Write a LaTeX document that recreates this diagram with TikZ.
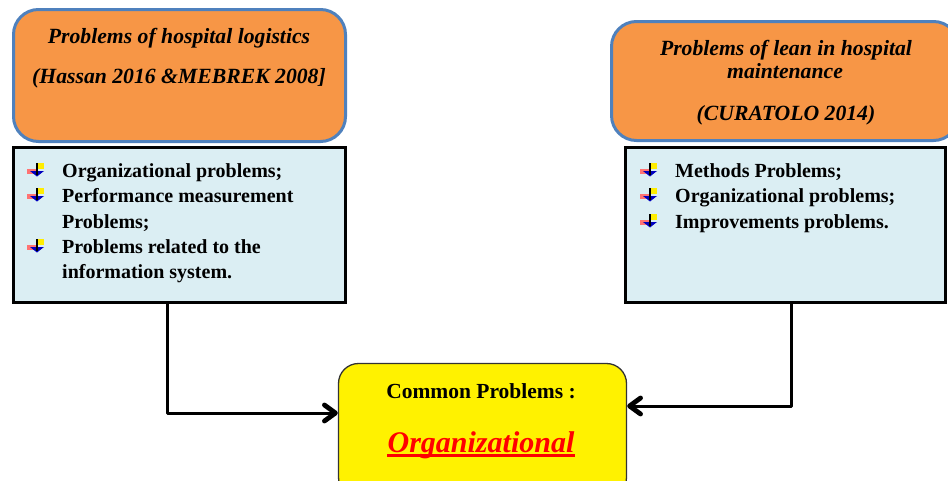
\documentclass[tikz,border=0pt]{standalone}
\usepackage{fontspec}
\setmainfont{Liberation Serif}
\usetikzlibrary{arrows.meta}
\definecolor{orng}{HTML}{F79646}
\definecolor{bord}{HTML}{4F81BD}
\definecolor{lblue}{HTML}{DBEEF3}
\begin{document}
\begin{tikzpicture}[x=1pt,y=-1pt,
  headbox/.style={rectangle, rounded corners=25pt, fill=orng, draw=bord, line width=3pt, inner sep=0pt},
  listbox/.style={rectangle, fill=lblue, draw=black, line width=3pt, inner sep=0pt},
  commonbox/.style={rectangle, rounded corners=20pt, fill=yellow, draw=black!80, line width=1.3pt, inner sep=0pt},
  htext/.style={font=\fontsize{21.7}{24}\selectfont\bfseries\itshape, anchor=base, inner sep=0pt},
  ltext/.style={font=\fontsize{20}{24}\selectfont\bfseries, anchor=base west, inner sep=0pt},
  conn/.style={line width=3pt, line join=round, line cap=round, -{Straight Barb[length=11pt,width=16pt,line width=0pt 1.6,round]}},
  bul/.pic={
    \fill[red!55!white] (-10,6) rectangle (-1,11);
    \fill[yellow!95!orange] (0,0) rectangle (7,6);
    \fill[blue!75!black] (-7,8) -- (7,8) -- (0,13.5) -- cycle;
    \draw[black, line width=1.4pt] (0,0) -- (0,12);
  }]
\useasboundingbox (0,0) rectangle (948,480);
\begin{scope}
\clip (0,0) rectangle (948,480);
% boxes
\node[headbox, minimum width=332pt, minimum height=132pt] (lh) at (179.5,75.5) {};
\node[listbox, minimum width=332pt, minimum height=155pt] (lb) at (179.5,225) {};
\node[headbox, minimum width=347pt, minimum height=119pt] (rh) at (785,81) {};
\node[listbox, minimum width=320pt, minimum height=155pt] (rb) at (785.5,225) {};
\node[commonbox, minimum width=288pt, minimum height=134pt] (cp) at (482.5,430.5) {};
% heading texts
\node[htext] (lh1) at (179,43) {Problems of hospital logistics};
\node[htext] (lh2) at (179,83) {(Hassan 2016 \&MEBREK 2008]};
\node[htext] (rh1) at (786,55) {Problems of lean in hospital};
\node[htext] (rh2) at (785,78) {maintenance};
\node[htext] (rh3) at (786,120) {(CURATOLO 2014)};
% left list
\pic at (37,163) {bul};
\pic at (37,188) {bul};
\pic at (37,239) {bul};
\node[ltext] (l1) at (62,177) {Organizational problems;};
\node[ltext] (l2) at (62,202) {Performance measurement};
\node[ltext] (l3) at (62,228) {Problems;};
\node[ltext] (l4) at (62,253) {Problems related to the};
\node[ltext] (l5) at (62,278) {information system.};
% right list
\pic at (650,163) {bul};
\pic at (650,188) {bul};
\pic at (650,214) {bul};
\node[ltext] (r1) at (675,177) {Methods Problems;};
\node[ltext] (r2) at (675,202) {Organizational problems;};
\node[ltext] (r3) at (675,228) {Improvements problems.};
% common box texts
\node[font=\fontsize{21.5}{24}\selectfont\bfseries, anchor=base, inner sep=0pt] (c1) at (481,398) {Common Problems :};
\node[font=\fontsize{30}{34}\selectfont\bfseries\itshape, text=red, anchor=base, inner sep=0pt] (c2) at (481,452) {Organizational};
\draw[red, line width=2.2pt] ([yshift=-3.5pt]c2.base west) -- ([yshift=-3.5pt]c2.base east);
% connectors
\coordinate (lx) at (167,0);
\coordinate (rx) at (791,0);
\coordinate (ly) at (0,413);
\coordinate (ry) at (0,406);
\draw[conn] (lb.south -| lx) |- (cp.west |- ly);
\draw[conn] (rb.south -| rx) |- (cp.east |- ry);
\end{scope}
\end{tikzpicture}
\end{document}
